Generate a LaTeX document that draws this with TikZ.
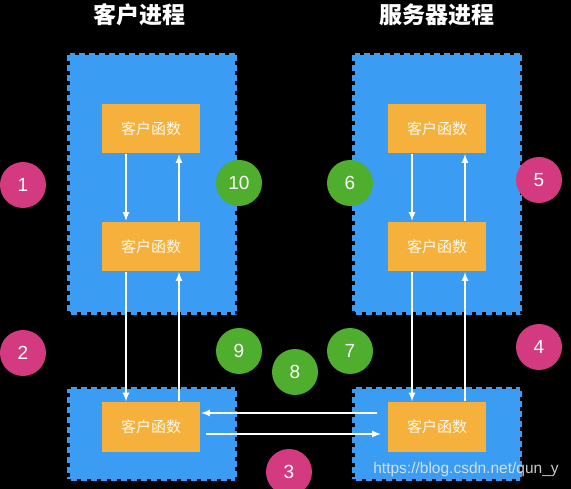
\documentclass[tikz,border=0pt]{standalone}
\usepackage{fontspec}
\setmainfont{Liberation Sans}
\newfontfamily\cjk{Noto Sans CJK SC}
\usepackage{tikz}
\usetikzlibrary{arrows, shapes, positioning}

\definecolor{ProcBlue}{HTML}{3A9CF2}
\definecolor{FuncOrange}{HTML}{F6B13D}
\definecolor{StepGreen}{HTML}{4FAE2D}
\definecolor{StepPink}{HTML}{D33A7F}

\begin{document}
\begin{tikzpicture}[x=1pt, y=-1pt,
  process/.style={rectangle, fill=ProcBlue, draw=black, line width=5pt,
    dash pattern=on 4pt off 6pt, inner sep=0pt, minimum width=170pt},
  %
  func/.style ={rectangle, fill=FuncOrange, text=white!92!FuncOrange,
    minimum width=98pt, minimum height=49pt,
    font=\cjk\fontsize{15}{15}\selectfont},
  %
  green/.style ={circle, fill=StepGreen, text=white, minimum size=46pt,
    inner sep=0pt, font=\fontsize{19}{19}\selectfont},
  %
  pink/.style ={circle, fill=StepPink, text=white, minimum size=46pt,
    inner sep=0pt, font=\fontsize{19}{19}\selectfont},
  %
  title/.style ={text=white, font=\cjk\bfseries\fontsize{23}{23}\selectfont}
  ]

  \tikzset{every path/.style={line width=2pt}}
  \fill[black] (0,0) rectangle (571,489);
  \useasboundingbox (0,0) rectangle (571,489);

  \begin{scope}
    % processes
    \node [process, minimum height=262pt] (clienttop) at (152,184) {};
    \node [process, minimum height=94pt] (clientbot) at (152,434) {};
    \node [process, minimum height=262pt] (servertop) at (437,184) {};
    \node [process, minimum height=94pt] (serverbot) at (437,434) {};
    \node [title] (clienttitle) at (139,15) {客户进程};
    \node [title] (servertitle) at (437,15) {服务器进程};
    % functions
    \node [func] (cf1) at (151,128.5) {客户函数};
    \node [func] (cf2) at (151,246.5) {客户函数};
    \node [func] (cf3) at (151,427) {客户函数};
    \node [func] (sf1) at (437,128.5) {客户函数};
    \node [func] (sf2) at (437,246.5) {客户函数};
    \node [func] (sf3) at (437,427) {客户函数};
  \end{scope}

  \begin{scope}
    \node [pink] (p1) at (23,185) {1};
    \node [pink] (p2) at (23,353) {2};
    \node [pink] (p3) at (289,472) {3};
    \node [pink] (p4) at (539,347) {4};
    \node [pink] (p5) at (539,180) {5};
    \node [green] (g6) at (350,183) {6};
    \node [green] (g7) at (350,351) {7};
    \node [green] (g8) at (295,372) {8};
    \node [green] (g9) at (239,351) {9};
    \node [green] (g10) at (239,183) {10};
  \end{scope}

  \begin{scope}[white]
    \draw [-latex] ([xshift=-25pt]cf1.south) -- ([xshift=-25pt]cf2.north);
    \draw [-latex] ([xshift=28pt]cf2.north) -- ([xshift=28pt]cf1.south);
    \draw [-latex] ([xshift=-25pt]cf2.south) -- ([xshift=-25pt]cf3.north);
    \draw [-latex] ([xshift=28pt]cf3.north) -- ([xshift=28pt]cf2.south);
    \draw [-latex] ([xshift=-25pt]sf1.south) -- ([xshift=-25pt]sf2.north);
    \draw [-latex] ([xshift=28pt]sf2.north) -- ([xshift=28pt]sf1.south);
    \draw [-latex] ([xshift=-25pt]sf2.south) -- ([xshift=-25pt]sf3.north);
    \draw [-latex] ([xshift=28pt]sf3.north) -- ([xshift=28pt]sf2.south);
    \draw [-latex] ([xshift=-10pt,yshift=14pt]sf3.west) -- ([yshift=14pt]cf3.east);
    \draw [-latex] ([xshift=5pt,yshift=-7pt]cf3.east) -- ([xshift=-6pt,yshift=-7pt]sf3.west);
  \end{scope}

  \node [text=white!85!gray, opacity=.85, font=\fontsize{15.5}{15.5}\selectfont]
    (mark) at (466,469) {https://blog.csdn.net/qun\_y};

\end{tikzpicture}
\end{document}
